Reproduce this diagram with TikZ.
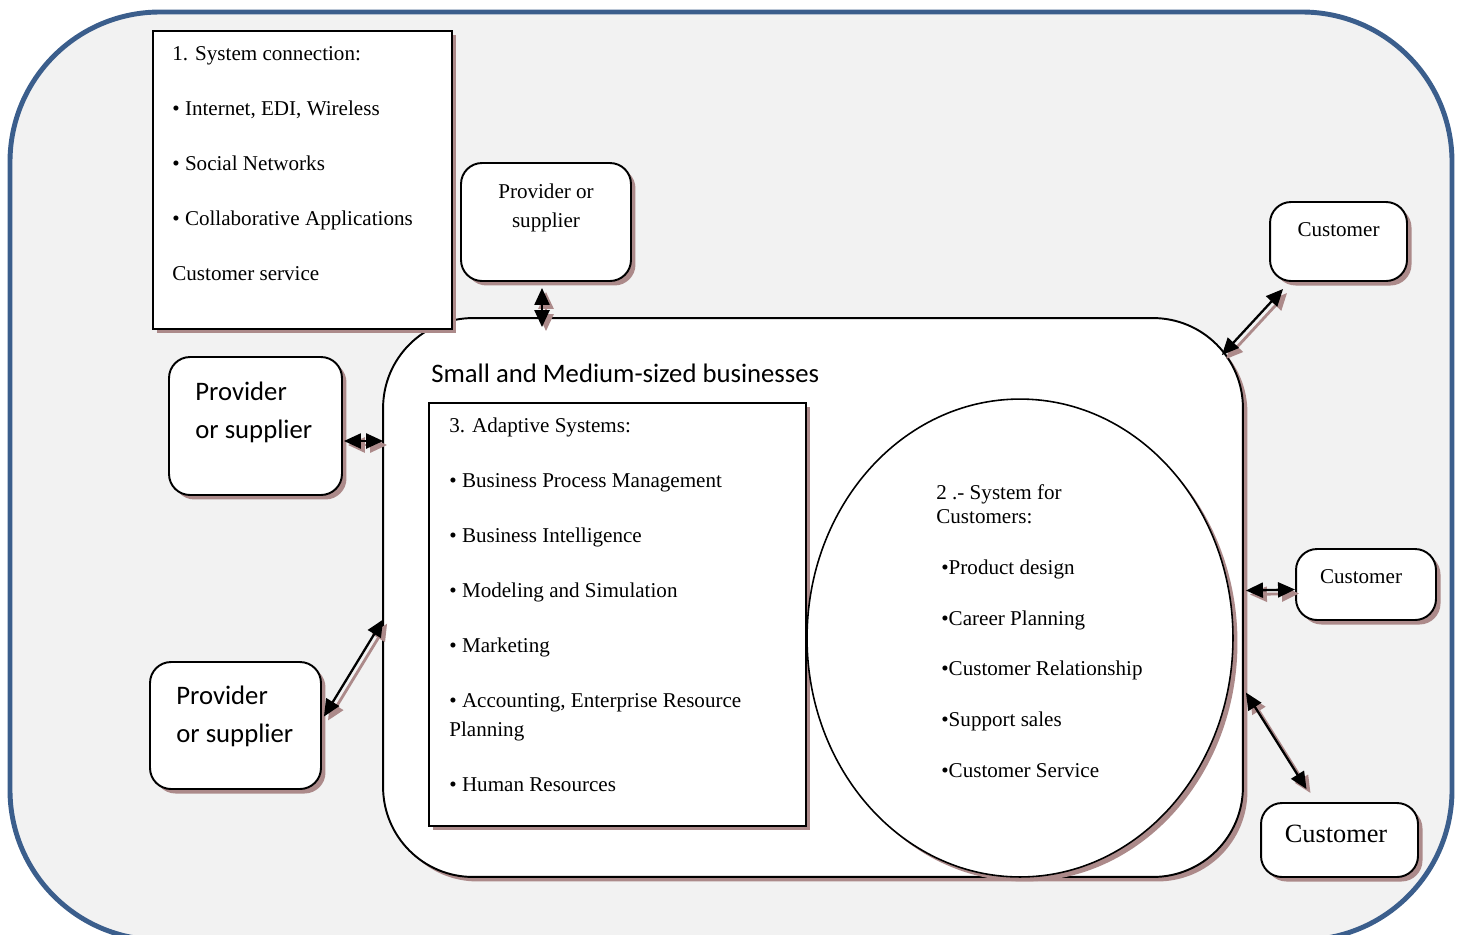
\documentclass[tikz,border=0pt]{standalone}
\usepackage{fontspec}
\setmainfont{Liberation Serif}
\newfontfamily\calib{Carlito}
\usetikzlibrary{arrows.meta,positioning,shadows,shapes.geometric,calc}
\definecolor{frameblue}{RGB}{59,94,140}
\definecolor{framefill}{RGB}{242,242,242}
\definecolor{shadowred}{RGB}{172,138,138}

\tikzset{
  shad/.style={drop shadow={shadow xshift=0.09cm,shadow yshift=-0.09cm,fill=shadowred,opacity=1}},
  bigbox/.style={draw,fill=white,line width=1.1pt,rounded corners=1.8cm,shad},
  sqbox/.style={draw,fill=white,line width=1.1pt,shad,anchor=north west},
  rbox/.style={draw,fill=white,line width=1.1pt,rounded corners=0.42cm,shad},
  oval/.style={draw,ellipse,fill=white,line width=0.9pt,shad},
  serif/.style={font=\fontsize{12}{16.5}\selectfont,inner sep=0pt},
  sans/.style={font=\calib\fontsize{15.2}{21.6}\selectfont,inner sep=0pt},
  link/.style={{Triangle[length=0.34cm,width=0.3cm]}-{Triangle[length=0.34cm,width=0.3cm]},line width=1.3pt,
    preaction={draw=shadowred,line width=1.6pt,transform canvas={shift={(0.08cm,-0.08cm)}}}},
}

\begin{document}
\begin{tikzpicture}[x=0.02cm,y=-0.02cm]
  \useasboundingbox (0,0) rectangle (1462,934);
  \clip (0,0) rectangle (1462,934);

  % outer frame
  \draw[line width=2.8pt,draw=frameblue,fill=framefill,rounded corners=3cm] (10,12) rectangle (1452,940);

  % businesses
  \node[bigbox,minimum width=17.2cm,minimum height=11.18cm] (smb) at (813,597.5) {};
  \node[sans,anchor=west] (smbtxt) at (431,373) {Small and Medium-sized businesses};

  % 1. system connection
  \node[sqbox,minimum width=5.98cm,minimum height=5.96cm] (conn) at (152,30) {};
  \node[serif,anchor=north west,align=left] (conntxt) at (172,46)
    {1. System connection:\\[14.8pt]
     \textbullet{} Internet, EDI, Wireless\\[14.8pt]
     \textbullet{} Social Networks\\[14.8pt]
     \textbullet{} Collaborative Applications\\[14.8pt]
     Customer service};

  % 3. adaptive systems
  \node[sqbox,minimum width=7.54cm,minimum height=8.46cm] (adapt) at (428,402) {};
  \node[serif,anchor=north west,align=left] (adapttxt) at (449,418)
    {3. Adaptive Systems:\\[14.8pt]
     \textbullet{} Business Process Management\\[14.8pt]
     \textbullet{} Business Intelligence\\[14.8pt]
     \textbullet{} Modeling and Simulation\\[14.8pt]
     \textbullet{} Marketing\\[14.8pt]
     \textbullet{} Accounting, Enterprise Resource\\
     Planning\\[14.8pt]
     \textbullet{} Human Resources};

  % 2. system for customers
  \node[oval,minimum width=8.52cm,minimum height=9.56cm] (custsys) at (1020,638) {};
  \node[serif,font=\fontsize{12}{13.6}\selectfont,anchor=north west,align=left] (custtxt) at (936,484)
    {2 .- System for\\
     Customers:\\[15.4pt]
     \hspace{0.1cm}\textbullet Product design\\[15.4pt]
     \hspace{0.1cm}\textbullet Career Planning\\[15.4pt]
     \hspace{0.1cm}\textbullet Customer Relationship\\[15.4pt]
     \hspace{0.1cm}\textbullet Support sales\\[15.4pt]
     \hspace{0.1cm}\textbullet Customer Service};

  % providers
  \node[rbox,minimum width=3.4cm,minimum height=2.36cm] (prov1) at (546,222) {};
  \node[serif,align=center] (prov1txt) at (546,207.5) {Provider or\\supplier};
  \node[rbox,minimum width=3.46cm,minimum height=2.76cm] (prov2) at (255.5,426) {};
  \node[sans,anchor=west,align=left] (prov2txt) at (195,412) {Provider\\or supplier};
  \node[rbox,minimum width=3.42cm,minimum height=2.54cm] (prov3) at (235.5,725.5) {};
  \node[sans,anchor=west,align=left] (prov3txt) at (176,716.5) {Provider\\or supplier};

  % customers
  \node[rbox,minimum width=2.74cm,minimum height=1.58cm] (cust1) at (1338.5,241.5) {};
  \node[serif] (cust1txt) at (1338.5,230) {Customer};
  \node[rbox,minimum width=2.8cm,minimum height=1.42cm] (cust2) at (1366,584.5) {};
  \node[serif] (cust2txt) at (1361,577) {Customer};
  \node[rbox,minimum width=3.14cm,minimum height=1.48cm] (cust3) at (1339.5,840) {};
  \node[serif,font=\fontsize{15}{18}\selectfont] (cust3txt) at (1336,834) {Customer};

  % links
  \draw[link] ($(prov1.south)+(-4,6)$) -- ($(prov1.south |- smb.north)+(-4,10)$);
  \draw[link] ($(prov2.east)+(1,15)$) -- ($(prov2.east -| smb.west)+(1,15)$);
  \draw[link] ($(prov3.east)+(2,-9)$) -- ($(smb.west)+(1,22)$);
  \draw[link] ($(cust1.south west)+(14,7)$) -- ($(smb.north east)+(-22,38)$);
  \draw[link] ($(smb.east)+(2,-7)$) -- ($(cust2.west)+(0,5)$);
  \draw[link] ($(smb.east)+(2,95)$) -- ($(cust3.north)+(-33,-13)$);
\end{tikzpicture}
\end{document}
